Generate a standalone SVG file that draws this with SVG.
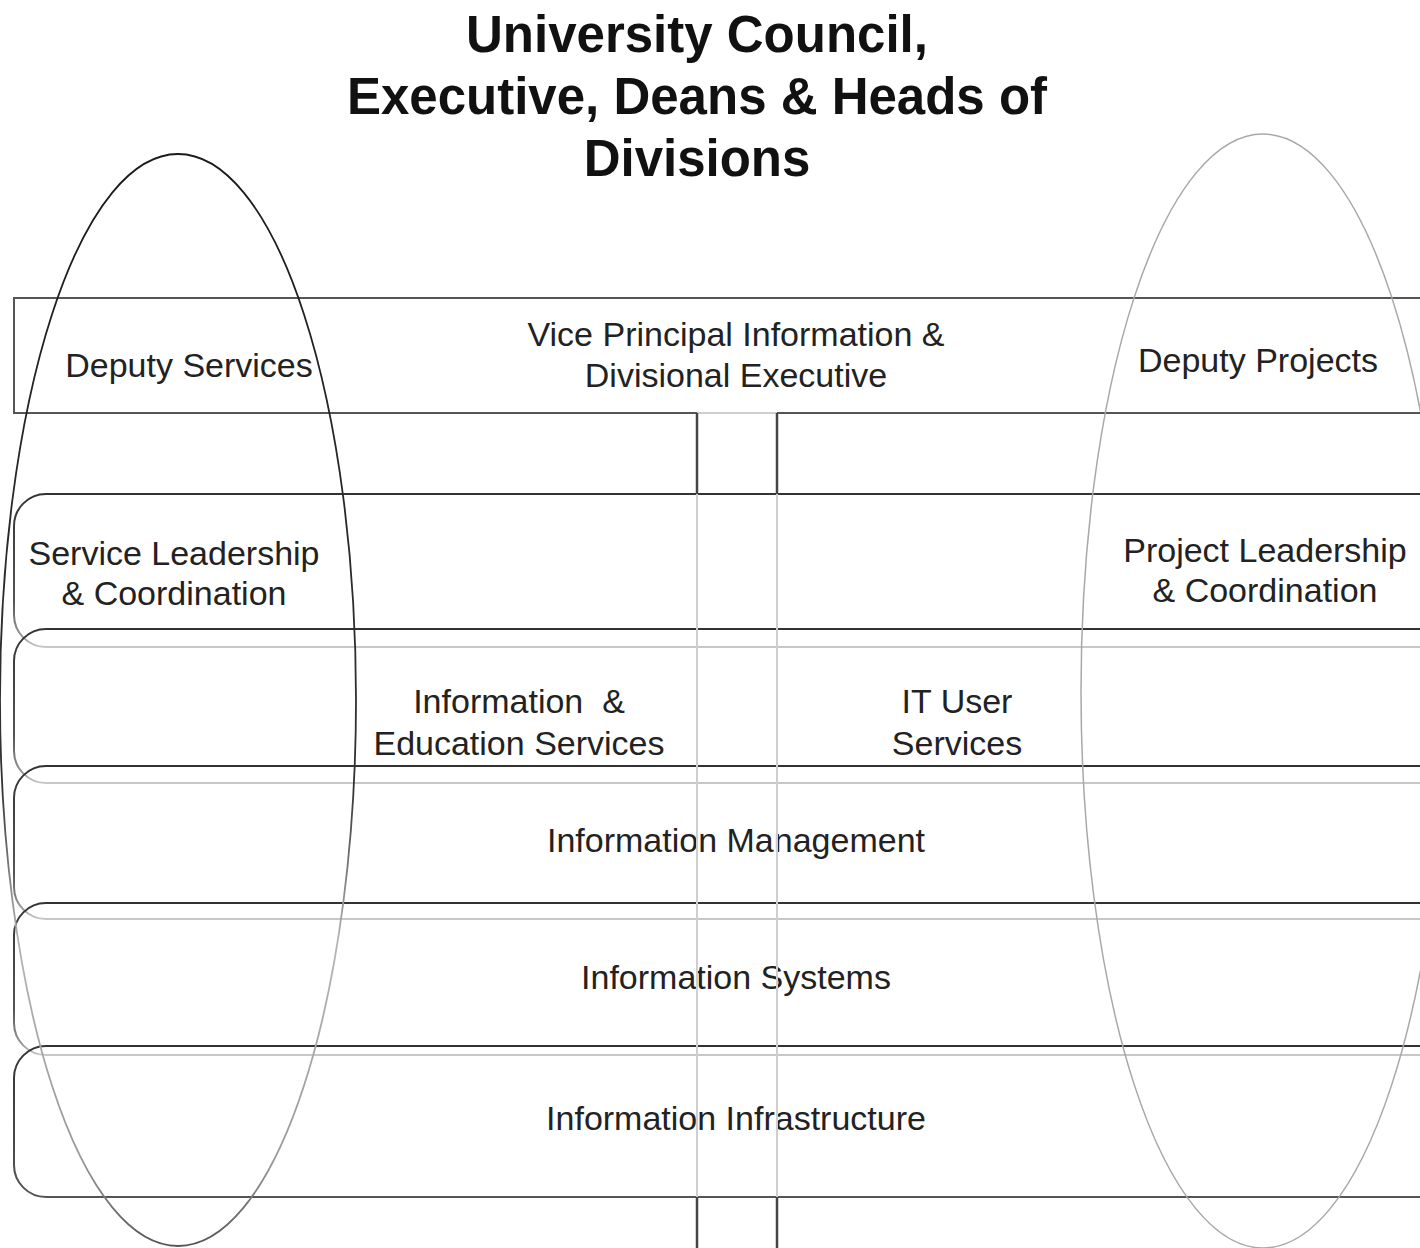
<svg xmlns="http://www.w3.org/2000/svg" width="1420" height="1248" viewBox="0 0 1420 1248">
<defs>
<linearGradient id="bandStroke" x1="0" y1="0" x2="0" y2="1">
<stop offset="0" stop-color="#333333"/>
<stop offset="0.7" stop-color="#555555"/>
<stop offset="0.93" stop-color="#999999"/>
<stop offset="1" stop-color="#c8c8c8"/>
</linearGradient>
<linearGradient id="lastBand" x1="0" y1="0" x2="0" y2="1">
<stop offset="0" stop-color="#333333"/>
<stop offset="1" stop-color="#555555"/>
</linearGradient>
<linearGradient id="leftEll" x1="0" y1="0" x2="0" y2="1">
<stop offset="0" stop-color="#1a1a1a"/>
<stop offset="0.58" stop-color="#333333"/>
<stop offset="0.72" stop-color="#b5b5b5"/>
<stop offset="0.92" stop-color="#999999"/>
<stop offset="1" stop-color="#555555"/>
</linearGradient>
</defs>
<style>
.title{font-family:"Liberation Sans",Arial,sans-serif;font-weight:bold;font-size:51px;fill:#111;text-anchor:middle}
.lbl{font-family:"Liberation Sans",Arial,sans-serif;font-size:34px;fill:#222;text-anchor:middle}
.pre{white-space:pre}
.band{fill:none;stroke:url(#bandStroke);stroke-width:2}
.band-last{fill:none;stroke:url(#lastBand);stroke-width:2}
.box{fill:none;stroke:#555;stroke-width:2}
.dark{stroke:#444;stroke-width:2.5;fill:none}
.faint{stroke:#cfcfcf;stroke-width:2;fill:none}
</style>
<rect x="0" y="0" width="1420" height="1248" fill="#fff"/>

<g id="title">
<text class="title" x="697" y="52">University Council,</text>
<text class="title" x="697" y="114">Executive, Deans &amp; Heads of</text>
<text class="title" x="697" y="176">Divisions</text>
</g>

<g id="top-box">
<path class="box" d="M1440 298 H14 V413 H697"/>
<path class="box" d="M777 413 H1440"/>
<line class="faint" x1="697" y1="413" x2="777" y2="413"/>
<text class="lbl" x="189" y="377">Deputy Services</text>
<text class="lbl" x="736" y="346">Vice Principal Information &amp;</text>
<text class="lbl" x="736" y="387">Divisional Executive</text>
<text class="lbl" x="1258" y="372">Deputy Projects</text>
</g>

<g id="band-leadership">
<rect class="band" x="14" y="494" width="1440" height="153" rx="32" ry="32"/>
<text class="lbl" x="174" y="565">Service Leadership</text>
<text class="lbl" x="174" y="605">&amp; Coordination</text>
<text class="lbl" x="1265" y="562">Project Leadership</text>
<text class="lbl" x="1265" y="602">&amp; Coordination</text>
</g>

<g id="band-services">
<rect class="band" x="14" y="629" width="1440" height="154" rx="32" ry="32"/>
<text class="lbl pre" x="519" y="713" xml:space="preserve">Information  &amp;</text>
<text class="lbl" x="519" y="755">Education Services</text>
<text class="lbl" x="957" y="713">IT User</text>
<text class="lbl" x="957" y="755">Services</text>
</g>

<g id="band-management">
<rect class="band" x="14" y="766" width="1440" height="153" rx="32" ry="32"/>
<text class="lbl" x="736" y="852">Information Management</text>
</g>

<g id="band-systems">
<rect class="band" x="14" y="903" width="1440" height="152" rx="32" ry="32"/>
<text class="lbl" x="736" y="989">Information Systems</text>
</g>

<g id="band-infrastructure">
<rect class="band-last" x="14" y="1046" width="1440" height="151" rx="32" ry="32"/>
<text class="lbl" x="736" y="1130">Information Infrastructure</text>
</g>

<g id="connectors">
<path class="dark" d="M697 413 V494"/>
<path class="dark" d="M777 413 V494"/>
<path class="faint" d="M697 494 V1197"/>
<path class="faint" d="M777 494 V1197"/>
<path class="dark" d="M697 1197 V1250"/>
<path class="dark" d="M777 1197 V1250"/>
</g>

<g id="deputy-services-scope">
<ellipse cx="178" cy="700" rx="178" ry="546" fill="none" stroke="url(#leftEll)" stroke-width="1.8"/>
</g>

<g id="deputy-projects-scope">
<ellipse cx="1263" cy="691" rx="182" ry="557" fill="none" stroke="#a8a8a8" stroke-width="1.5"/>
</g>
</svg>
